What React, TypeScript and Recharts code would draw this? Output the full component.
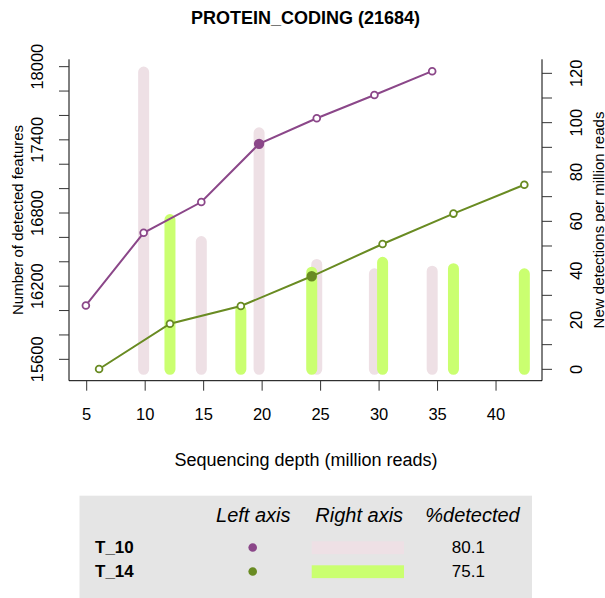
import React from "react";
import { ComposedChart, Line, XAxis, YAxis } from "recharts";

// sequencing depth (million reads) and detected features per sample
const t10Depth = [4.93, 9.87, 14.8, 19.74, 24.67, 29.6, 34.54];
const t10Features = [16042, 16638, 16890, 17367, 17577, 17768, 17963];
const t10NewPerMillion = [null, 120.5, 51.8, 95.9, 42.5, 38.7, 39.8];
const t10ObservedIdx = 3;

const t14Depth = [6.06, 12.12, 18.18, 24.24, 30.3, 36.36, 42.42];
const t14Features = [15521, 15892, 16037, 16281, 16546, 16795, 17032];
const t14NewPerMillion = [null, 60.7, 24.0, 39.4, 43.4, 40.8, 38.7];
const t14ObservedIdx = 3;

const depthTicks = [5, 10, 15, 20, 25, 30, 35, 40];
const leftTicks = [15600, 15800, 16000, 16200, 16400, 16600, 16800, 17000, 17200, 17400, 17600, 17800, 18000];
const leftLabels = [15600, 16200, 16800, 17400, 18000];
const rightTicks = [0, 10, 20, 30, 40, 50, 60, 70, 80, 90, 100, 110, 120];
const rightLabels = [0, 20, 40, 60, 80, 100, 120];

const legendRows = ["T_10", "T_14"];
const legendPct = ["80.1", "75.1"];

const PURPLE = "#8B4789";
const OLIVE = "#698B22";
const PINK = "#EEE0E5";
const LIME = "#CAFF70";
const FONT = '"Liberation Sans", Arial, Helvetica, sans-serif';

const toPoints = (xs: number[], ys: number[]) => xs.map((x, i) => ({ x, v: ys[i] }));

// each bar is a thick segment from 0 to the value, separated by gaps
const toSegments = (xs: number[], vs: (number | null)[]) =>
  xs.flatMap((x, i) =>
    vs[i] == null ? [] : [{ x, v: 0 }, { x, v: vs[i] }, { x, v: null }]
  );

const makeDot = (color: string, filledIdx: number) => (props: any) => {
  const { cx, cy, index } = props;
  if (cx == null || cy == null) return <g key={`e${index}`} />;
  const filled = index === filledIdx;
  return (
    <circle
      key={`d${index}`}
      cx={cx}
      cy={cy}
      r={filled ? 4.3 : 3.4}
      fill={filled ? color : "#fff"}
      stroke={color}
      strokeWidth={1.8}
    />
  );
};

const LeftTick = (props: any) => {
  const { x, y, payload } = props;
  if (!leftLabels.includes(payload.value)) return <g />;
  const bx = x - 15.7;
  return (
    <text x={bx} y={y} transform={`rotate(-90 ${bx} ${y})`} textAnchor="middle"
      fontSize={16.5} fontFamily={FONT} fill="#000">
      {payload.value}
    </text>
  );
};

const RightTick = (props: any) => {
  const { x, y, payload } = props;
  if (!rightLabels.includes(payload.value)) return <g />;
  const bx = x + 29.7;
  return (
    <text x={bx} y={y} transform={`rotate(-90 ${bx} ${y})`} textAnchor="middle"
      fontSize={16.5} fontFamily={FONT} fill="#000">
      {payload.value}
    </text>
  );
};

const BottomTick = (props: any) => {
  const { x, y, payload } = props;
  return (
    <text x={x} y={y + 29.3} textAnchor="middle" fontSize={16.5} fontFamily={FONT} fill="#000">
      {payload.value}
    </text>
  );
};

export default function App() {
  return (
    <div style={{ position: "absolute", left: 0, top: 0, width: 605, height: 598, background: "#fff" }}>
      <ComposedChart
        width={605}
        height={598}
        margin={{ top: 59.3, right: 3, bottom: 177.3, left: 9 }}
      >
        <XAxis
          type="number"
          dataKey="x"
          domain={[3.487, 43.93]}
          allowDataOverflow
          ticks={depthTicks}
          interval={0}
          height={40}
          tickSize={10}
          tickMargin={0}
          tick={BottomTick}
          axisLine={{ stroke: "#000" }}
          tickLine={{ stroke: "#333" }}
        />
        <XAxis
          xAxisId="top"
          orientation="top"
          type="number"
          domain={[3.487, 43.93]}
          allowDataOverflow
          height={0}
          tick={false}
          tickLine={false}
          axisLine={{ stroke: "#000" }}
        />
        <YAxis
          yAxisId="left"
          type="number"
          domain={[15424.8, 18060.4]}
          allowDataOverflow
          ticks={leftTicks}
          interval={0}
          width={60}
          tickSize={10}
          tickMargin={0}
          tick={LeftTick}
          axisLine={{ stroke: "#000" }}
          tickLine={{ stroke: "#333" }}
        />
        <YAxis
          yAxisId="right"
          orientation="right"
          type="number"
          domain={[-4.61, 125.69]}
          allowDataOverflow
          ticks={rightTicks}
          interval={0}
          width={60}
          tickSize={10}
          tickMargin={0}
          tick={RightTick}
          axisLine={{ stroke: "#000" }}
          tickLine={{ stroke: "#333" }}
        />

        <Line
          yAxisId="right"
          data={toSegments(t10Depth, t10NewPerMillion)}
          dataKey="v"
          type="linear"
          stroke={PINK}
          strokeWidth={11}
          strokeLinecap="round"
          dot={false}
          activeDot={false}
          connectNulls={false}
          isAnimationActive={false}
        />
        <Line
          yAxisId="right"
          data={toSegments(t14Depth, t14NewPerMillion)}
          dataKey="v"
          type="linear"
          stroke={LIME}
          strokeWidth={11}
          strokeLinecap="round"
          dot={false}
          activeDot={false}
          connectNulls={false}
          isAnimationActive={false}
        />
        <Line
          yAxisId="left"
          data={toPoints(t10Depth, t10Features)}
          dataKey="v"
          type="linear"
          stroke={PURPLE}
          strokeWidth={2}
          dot={makeDot(PURPLE, t10ObservedIdx)}
          activeDot={false}
          isAnimationActive={false}
        />
        <Line
          yAxisId="left"
          data={toPoints(t14Depth, t14Features)}
          dataKey="v"
          type="linear"
          stroke={OLIVE}
          strokeWidth={2}
          dot={makeDot(OLIVE, t14ObservedIdx)}
          activeDot={false}
          isAnimationActive={false}
        />
      </ComposedChart>

      <svg
        width={605}
        height={598}
        style={{ position: "absolute", left: 0, top: 0, pointerEvents: "none" }}
        fontFamily={FONT}
      >
        <text x={305.5} y={24} textAnchor="middle" fontSize={18} fontWeight="bold">
          PROTEIN_CODING (21684)
        </text>
        <text x={306} y={466} textAnchor="middle" fontSize={18}>
          Sequencing depth (million reads)
        </text>
        <text x={22.7} y={220} transform="rotate(-90 22.7 220)" textAnchor="middle" fontSize={15}>
          Number of detected features
        </text>
        <text x={603.5} y={220} transform="rotate(-90 603.5 220)" textAnchor="middle" fontSize={15}>
          New detections per million reads
        </text>

        <rect x={79.5} y={495.7} width={452.5} height={102.3} fill="#E5E5E5" />
        <text x={253.3} y={522} textAnchor="middle" fontSize={20} fontStyle="italic">Left axis</text>
        <text x={359.2} y={522} textAnchor="middle" fontSize={20} fontStyle="italic">Right axis</text>
        <text x={472.5} y={522} textAnchor="middle" fontSize={20} fontStyle="italic">%detected</text>
        {legendRows.map((name, i) => {
          const base = 553.3 + i * 24;
          const color = i === 0 ? PURPLE : OLIVE;
          const bar = i === 0 ? PINK : LIME;
          return (
            <g key={name}>
              <text x={95} y={base} fontSize={17} fontWeight="bold">{name}</text>
              <circle cx={252.7} cy={base - 5.8} r={4.3} fill={color} />
              <rect x={311.7} y={base - 12} width={92.3} height={12.8} fill={bar} />
              <text x={468.3} y={base} textAnchor="middle" fontSize={17}>{legendPct[i]}</text>
            </g>
          );
        })}
      </svg>
    </div>
  );
}
